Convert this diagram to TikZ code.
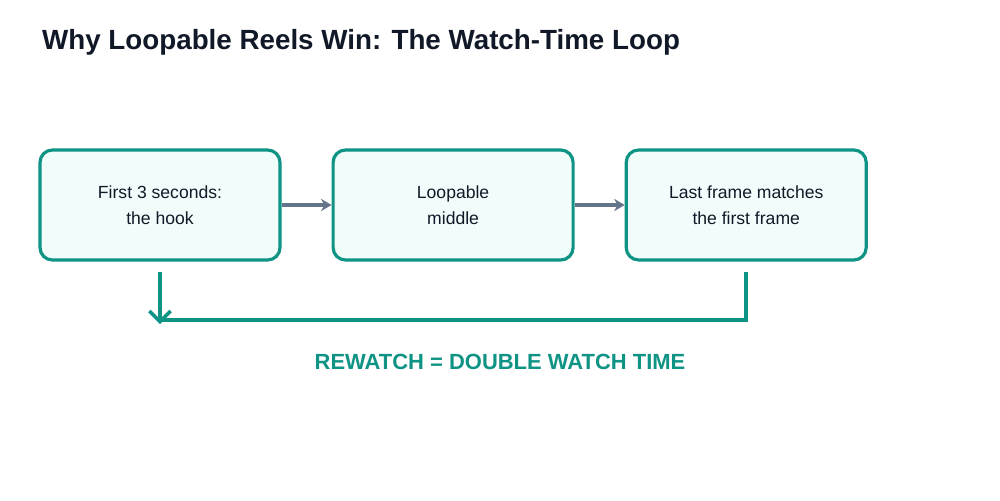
\documentclass[tikz,border=0pt]{standalone}
\usepackage{fontspec}
\setmainfont{Liberation Sans}
\usetikzlibrary{positioning,arrows.meta}
\definecolor{reelteal}{HTML}{0E9384}
\definecolor{tealbg}{HTML}{F0FDFA}
\definecolor{slate}{HTML}{64748B}
\definecolor{ink}{HTML}{111827}
\tikzset{
  stage/.style = {draw = reelteal, fill = tealbg, line width = 1.8pt, rounded corners = 7pt,
    minimum width = 4.8cm, minimum height = 2.2cm, align = center, text = ink, font = \fontsize{10}{14.5}\selectfont},
  flow/.style = {-{Stealth[length = 6pt, width = 7pt]}, draw = slate, line width = 2pt},
  backline/.style = {draw = reelteal, line width = 2pt}
}
\begin{document}
\begin{tikzpicture}[x = .02cm, y = -.02cm]
  \useasboundingbox (0, 0) rectangle (1000, 500);

  %%title
  \node[anchor = west, text = ink, font = \fontsize{15.8}{18}\bfseries\selectfont] (title) at (36, 42)
    {Why Loopable Reels Win: The Watch-Time Loop};

  %%stages
  \node[stage] (hook) at (160, 205) {First 3 seconds:\\the hook};
  \node[stage, right = 1.0cm of hook] (middle) {Loopable\\middle};
  \node[stage, right = 1.0cm of middle] (last) {Last frame matches\\the first frame};

  \draw[flow](hook) to (middle);
  \draw[flow](middle) to (last);

  %%loop back
  \coordinate (left) at (160, 320);
  \coordinate (tip) at (160, 324);
  \draw[backline](last.south) ++(0, 10) |- (left);
  \draw[backline, -{Straight Barb[length = 6pt, width = 12pt]}](hook.south) ++(0, 10) to (tip);

  \node[text = reelteal, font = \fontsize{12.5}{14}\bfseries\selectfont] (rewatch) at (500, 362)
    {REWATCH = DOUBLE WATCH TIME};

\end{tikzpicture}
\end{document}
